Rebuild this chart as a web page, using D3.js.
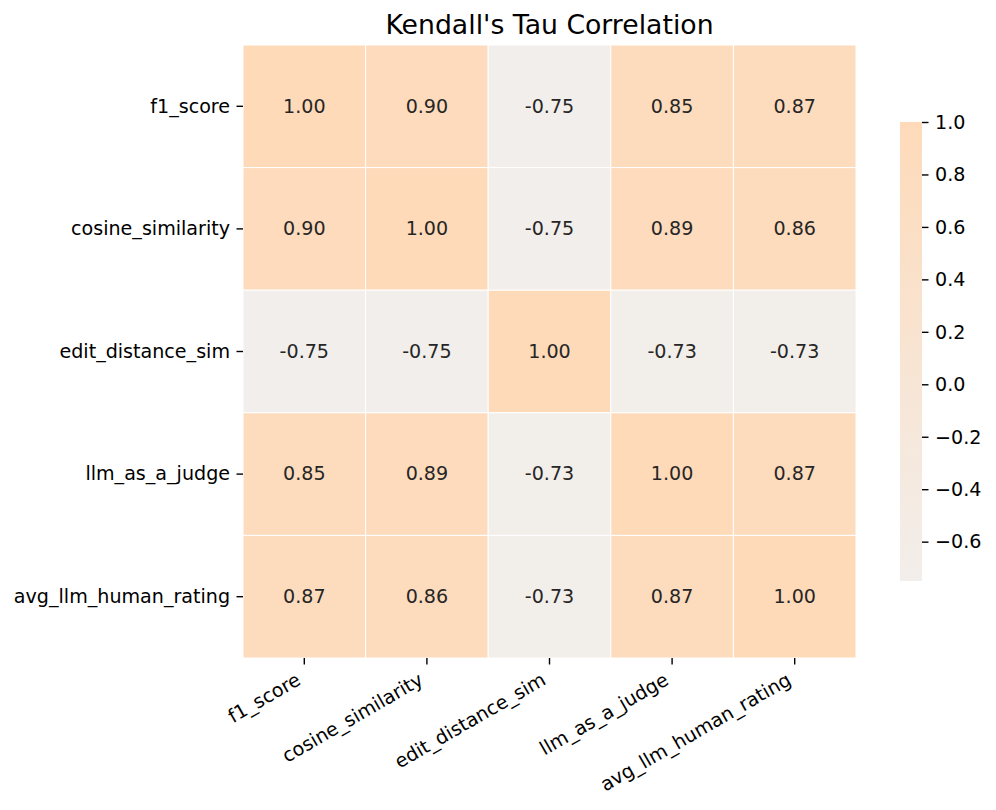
<!DOCTYPE html>
<html><head><meta charset="utf-8">
<script src="https://cdn.jsdelivr.net/npm/d3@7"></script>
<style>body{margin:0;background:#fff}svg{display:block}text{font-family:"DejaVu Sans",sans-serif}</style>
</head><body><svg id="c" width="996" height="810"></svg>
<script>
const labels = ["f1_score","cosine_similarity","edit_distance_sim","llm_as_a_judge","avg_llm_human_rating"];
const row_f1 = [1.00, 0.90, -0.75, 0.85, 0.87];
const row_cos = [0.90, 1.00, -0.75, 0.89, 0.86];
const row_edit = [-0.75, -0.75, 1.00, -0.73, -0.73];
const row_llm = [0.85, 0.89, -0.73, 1.00, 0.87];
const row_avg = [0.87, 0.86, -0.73, 0.87, 1.00];
const matrix = [row_f1, row_cos, row_edit, row_llm, row_avg];
const cbTicks = [1.0, 0.8, 0.6, 0.4, 0.2, 0.0, -0.2, -0.4, -0.6];
const title = "Kendall's Tau Correlation";

const svg = d3.select("#c");
const L = 243, R = 856, T = 45, B = 658;
const fs = 19.1, tickLen = 6.5, pad = 6.5;
const x = d3.scaleBand().domain(labels).range([L, R]);
const y = d3.scaleBand().domain(labels).range([T, B]);
const vmin = -0.75, vmax = 1.0;
const color = d3.scaleLinear().domain([vmin, vmax]).range(["#f2eeeb", "#fedab9"]).interpolate(d3.interpolateRgb).clamp(true);

const cells = [];
matrix.forEach((row, i) => row.forEach((v, j) => cells.push({r: labels[i], c: labels[j], v})));

svg.append("g").selectAll("rect").data(cells).join("rect")
  .attr("x", d => x(d.c)).attr("y", d => y(d.r))
  .attr("width", x.bandwidth()).attr("height", y.bandwidth())
  .attr("fill", d => color(d.v)).attr("stroke", "#fff").attr("stroke-width", 1);

svg.append("g").selectAll("text").data(cells).join("text")
  .attr("x", d => x(d.c) + x.bandwidth()/2).attr("y", d => y(d.r) + y.bandwidth()/2)
  .attr("text-anchor", "middle").attr("dy", "0.33em")
  .attr("font-size", fs).attr("fill", "#262626")
  .text(d => d.v.toFixed(2));

// y axis
const yAx = svg.append("g").attr("transform", `translate(${L},0)`)
  .call(d3.axisLeft(y).tickSize(tickLen).tickPadding(pad));
yAx.select(".domain").remove();
yAx.selectAll("line").attr("stroke", "#000").attr("stroke-width", 1.4);
yAx.selectAll("text").attr("font-size", fs).attr("fill", "#000").attr("font-family", "DejaVu Sans").attr("dy", "0.33em");

// x axis
const xAx = svg.append("g").attr("transform", `translate(0,${B})`)
  .call(d3.axisBottom(x).tickSize(tickLen).tickPadding(pad));
xAx.select(".domain").remove();
xAx.selectAll("line").attr("stroke", "#000").attr("stroke-width", 1.4);
const asc = 0.76*fs, desc = 0.24*fs;
xAx.selectAll("text").attr("font-size", fs).attr("fill", "#000").attr("font-family", "DejaVu Sans")
  .attr("y", null).attr("dy", null).attr("text-anchor", "end")
  .attr("transform", `translate(${-0.5*desc},${tickLen + pad + 0.866*asc}) rotate(-30)`);

// title
svg.append("text").attr("x", (L+R)/2).attr("y", 34).attr("text-anchor", "middle")
  .attr("font-size", 26.7).attr("fill", "#000").text(title);

// colorbar
const cbL = 900, cbW = 22, cbT = 122, cbB = 581;
const cy = d3.scaleLinear().domain([vmin, vmax]).range([cbB, cbT]);
const defs = svg.append("defs");
const grad = defs.append("linearGradient").attr("id", "g").attr("x1", 0).attr("y1", 1).attr("x2", 0).attr("y2", 0);
grad.append("stop").attr("offset", 0).attr("stop-color", color(vmin));
grad.append("stop").attr("offset", 1).attr("stop-color", color(vmax));
svg.append("rect").attr("x", cbL).attr("y", cbT).attr("width", cbW).attr("height", cbB - cbT).attr("fill", "url(#g)");
const cAx = svg.append("g").attr("transform", `translate(${cbL + cbW},0)`)
  .call(d3.axisRight(cy).tickValues(cbTicks).tickSize(tickLen).tickPadding(pad).tickFormat(d => d3.format(".1f")(d).replace("-", "\u2212")));
cAx.select(".domain").remove();
cAx.selectAll("line").attr("stroke", "#000").attr("stroke-width", 1.4);
cAx.selectAll("text").attr("font-size", fs).attr("fill", "#000").attr("font-family", "DejaVu Sans").attr("dy", "0.33em");
</script></body></html>
